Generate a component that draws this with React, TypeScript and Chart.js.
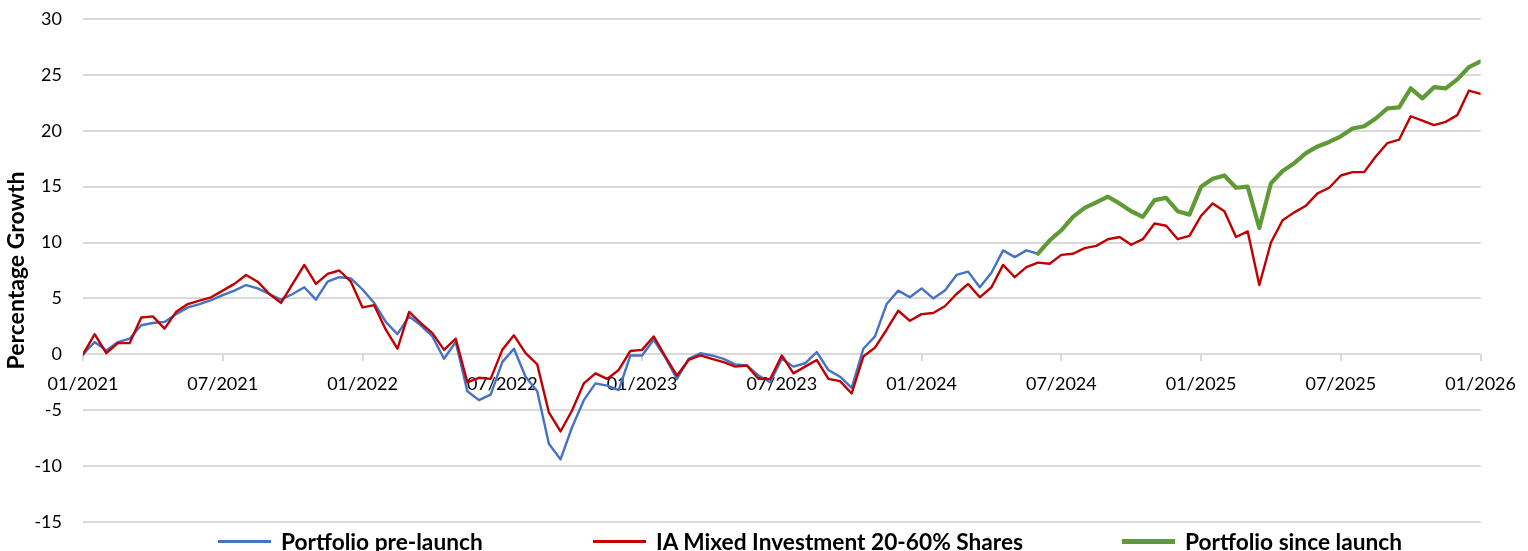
import React, { useEffect, useRef } from "react";
import { Chart, registerables } from "chart.js";

Chart.register(...registerables);

// x-axis tick labels (every 6 months)
const tickLabels = [
  "01/2021", "07/2021", "01/2022", "07/2022", "01/2023", "07/2023",
  "01/2024", "07/2024", "01/2025", "07/2025", "01/2026",
];

// half-monthly observation periods, in months since 01/2021
const periods = Array.from({ length: 121 }, (_, i) => i / 2);

// IA Mixed Investment 20-60% Shares (%)
const sectorValues = [
  0, 1.8, 0.1, 1.0, 1.0, 3.3, 3.4, 2.3, 3.8, 4.5,
  4.8, 5.1, 5.7, 6.3, 7.1, 6.5, 5.4, 4.6, 6.3, 8.0,
  6.3, 7.2, 7.5, 6.5, 4.2, 4.4, 2.2, 0.5, 3.8, 2.8,
  1.9, 0.4, 1.4, -2.5, -2.1, -2.2, 0.4, 1.7, 0.1, -0.9,
  -5.2, -6.9, -5.0, -2.6, -1.7, -2.2, -1.4, 0.3, 0.4, 1.6,
  -0.2, -1.9, -0.5, -0.1, -0.4, -0.7, -1.1, -1.0, -2.2, -2.2,
  -0.1, -1.7, -1.1, -0.5, -2.2, -2.4, -3.5, -0.2, 0.6, 2.2,
  3.9, 3.0, 3.6, 3.7, 4.3, 5.4, 6.3, 5.1, 6.0, 8.0,
  6.9, 7.8, 8.2, 8.1, 8.9, 9.0, 9.5, 9.7, 10.3, 10.5,
  9.8, 10.3, 11.7, 11.5, 10.3, 10.6, 12.4, 13.5, 12.8, 10.5,
  11.0, 6.2, 10.0, 12.0, 12.7, 13.3, 14.4, 14.9, 16.0, 16.3,
  16.3, 17.7, 18.9, 19.2, 21.3, 20.9, 20.5, 20.8, 21.4, 23.6,
  23.3,
];

// Portfolio pre-launch (%)
const preLaunchValues = [
  0, 1.1, 0.35, 1.1, 1.4, 2.6, 2.8, 2.9, 3.6, 4.2,
  4.5, 4.85, 5.3, 5.7, 6.2, 5.9, 5.4, 4.9, 5.4, 6.0,
  4.9, 6.5, 6.9, 6.8, 5.8, 4.6, 2.9, 1.8, 3.4, 2.6,
  1.6, -0.4, 1.1, -3.3, -4.1, -3.6, -0.7, 0.5, -2.0, -3.3,
  -8.0, -9.4, -6.5, -4.1, -2.6, -2.8, -3.2, -0.1, -0.1, 1.3,
  -0.3, -2.2, -0.4, 0.1, -0.1, -0.4, -0.9, -1.0, -1.9, -2.5,
  -0.4, -1.1, -0.8, 0.2, -1.4, -2.0, -3.0, 0.5, 1.6, 4.5,
  5.7, 5.1, 5.9, 5.0, 5.7, 7.1, 7.4, 6.0, 7.3, 9.3,
  8.7, 9.3, 9.0,
];

// Portfolio since launch (%), starting at the launch period
const launchPeriodIndex = 82;
const sinceLaunchValues = [
  9.0, 10.2, 11.1, 12.3, 13.1, 13.6, 14.1, 13.5, 12.8, 12.3,
  13.8, 14.0, 12.8, 12.5, 15.0, 15.7, 16.0, 14.9, 15.0, 11.3,
  15.3, 16.4, 17.1, 18.0, 18.6, 19.0, 19.5, 20.2, 20.4, 21.1,
  22.0, 22.1, 23.8, 22.9, 23.9, 23.8, 24.6, 25.7, 26.2,
];

const BLUE = "#4472C4";
const RED = "#C00000";
const GREEN = "#5F9A36";
const GRID = "#d9d9d9";
const FONT = "Lato, 'Open Sans', sans-serif";

const legendItems = [
  { label: "Portfolio pre-launch", color: BLUE, thickness: 3, left: 218 },
  { label: "IA Mixed Investment 20-60% Shares", color: RED, thickness: 3, left: 593 },
  { label: "Portfolio since launch", color: GREEN, thickness: 5, left: 1122 },
];

export default function App() {
  const canvasRef = useRef<HTMLCanvasElement | null>(null);

  useEffect(() => {
    document.body.style.margin = "0";
    const canvas = canvasRef.current;
    if (!canvas) return;
    const chart = new Chart(canvas, {
      type: "line",
      data: {
        datasets: [
          {
            label: "Portfolio since launch",
            data: sinceLaunchValues.map((v, k) => ({ x: periods[launchPeriodIndex + k], y: v })),
            borderColor: GREEN,
            backgroundColor: GREEN,
            borderWidth: 4.2,
            order: 0,
          },
          {
            label: "IA Mixed Investment 20-60% Shares",
            data: sectorValues.map((v, k) => ({ x: periods[k], y: v })),
            borderColor: RED,
            backgroundColor: RED,
            borderWidth: 2.4,
            order: 1,
          },
          {
            label: "Portfolio pre-launch",
            data: preLaunchValues.map((v, k) => ({ x: periods[k], y: v })),
            borderColor: BLUE,
            backgroundColor: BLUE,
            borderWidth: 2.4,
            order: 2,
          },
        ],
      },
      options: {
        responsive: false,
        animation: false,
        layout: { padding: { top: 19, right: 39, bottom: 29, left: 0 } },
        elements: {
          point: { radius: 0 },
          line: { tension: 0, borderJoinStyle: "round", borderCapStyle: "round" },
        },
        plugins: { legend: { display: false }, tooltip: { enabled: false } },
        scales: {
          x: {
            type: "linear",
            min: 0,
            max: 60,
            position: { y: 0 } as any,
            z: 1,
            afterFit: (s: any) => {
              s.height = 0;
            },
            ticks: {
              stepSize: 6,
              autoSkip: false,
              maxRotation: 0,
              padding: 12,
              color: "#000",
              font: { family: FONT, size: 18 },
              callback: (v: any) => tickLabels[Math.round(Number(v) / 6)] ?? "",
            },
            grid: { drawOnChartArea: false, drawTicks: true, tickLength: 7, color: GRID, lineWidth: 2 },
            border: { display: false },
          },
          y: {
            type: "linear",
            min: -15,
            max: 30,
            afterFit: (s: any) => {
              s.width = 83;
            },
            ticks: {
              stepSize: 5,
              padding: 0,
              color: "#000",
              font: { family: FONT, size: 18 },
            },
            grid: {
              color: GRID,
              lineWidth: 2,
              drawTicks: true,
              tickLength: 21,
              tickColor: "rgba(0,0,0,0)",
            },
            border: { display: false },
            title: {
              display: true,
              text: "Percentage Growth",
              color: "#000",
              font: { family: FONT, size: 23, weight: "bold" },
              padding: { top: 3, bottom: 0 },
            },
          },
        },
      },
    });
    return () => chart.destroy();
  }, []);

  return (
    <div style={{ position: "relative", width: 1528, height: 551, background: "#fff" }}>
      <canvas ref={canvasRef} width={1528} height={551} style={{ display: "block" }} />
      {legendItems.map((item) => (
        <div
          key={item.label}
          style={{
            position: "absolute",
            left: item.left,
            top: 528,
            height: 26,
            display: "flex",
            alignItems: "center",
            whiteSpace: "nowrap",
            fontFamily: FONT,
            fontWeight: 700,
            fontSize: 22.7,
            color: "#000",
          }}
        >
          <span
            style={{
              display: "inline-block",
              width: 53,
              height: item.thickness,
              background: item.color,
              marginRight: 10,
            }}
          />
          <span>{item.label}</span>
        </div>
      ))}
    </div>
  );
}
